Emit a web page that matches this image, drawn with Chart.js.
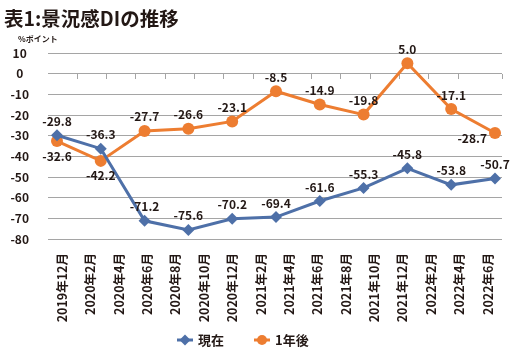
<!DOCTYPE html>
<html lang="ja">
<head>
<meta charset="utf-8">
<title>表1:景況感DIの推移</title>
<script src="https://cdn.jsdelivr.net/npm/chart.js@4/dist/chart.umd.min.js"></script>
<style>
  html, body { margin: 0; padding: 0; background: #fff; }
  #contenedor { position: relative; width: 513px; height: 360px; }
  #titulo { position: absolute; left: 4px; top: 8px; margin: 0; font: 700 19.5px/1 "Noto Sans CJK JP", sans-serif; color: #231815; }
  #unidad { position: absolute; left: 18px; top: 35px; font: 700 8px/1 "Noto Sans CJK JP", sans-serif; color: #231815; }
  #grafico { position: absolute; left: 0; top: 0; }
</style>
</head>
<body>
<div id="contenedor">
  <canvas id="grafico" width="513" height="360"></canvas>
  <h1 id="titulo">表1:景況感DIの推移</h1>
  <div id="unidad">%ポイント</div>
</div>
<script>
// Datos
const categorias = ['2019年12月', '2020年2月', '2020年4月', '2020年6月', '2020年8月', '2020年10月',
  '2020年12月', '2021年2月', '2021年4月', '2021年6月', '2021年8月', '2021年10月',
  '2021年12月', '2022年2月', '2022年4月', '2022年6月'];
const valoresActual = [-29.8, -36.3, -71.2, -75.6, -70.2, -69.4, -61.6, -55.3, -45.8, -53.8, -50.7];
const valoresFuturo = [-32.6, -42.2, -27.7, -26.6, -23.1, -8.5, -14.9, -19.8, 5.0, -17.1, -28.7];
const ticksY = [10, 0, -10, -20, -30, -40, -50, -60, -70, -80];
const nombresSeries = ['現在', '1年後'];

(function(){
  const tinta = '#231815';
  const gris = '#a5a5a5';
  const azul = '#4e70a8';
  const naranja = '#ed7d31';
  const fuente = '"Noto Sans CJK JP", sans-serif';

  const aPuntos = (valores) => valores.map((v, i) => ({ x: i, y: v }));

  // Etiquetas de valor encima/debajo de cada punto
  const etiquetasDatos = {
    id: 'etiquetasDatos',
    afterDatasetsDraw(chart) {
      const ctx = chart.ctx;
      ctx.save();
      ctx.font = 'bold 12px ' + fuente;
      ctx.fillStyle = tinta;
      ctx.textBaseline = 'middle';
      chart.data.datasets.forEach((ds, d) => {
        const meta = chart.getDatasetMeta(d);
        const pos = ds.etiquetas || {};
        const abajo = pos.abajo || [];
        const izquierda = pos.izquierda || [];
        meta.data.forEach((pt, i) => {
          const texto = ds.data[i].y.toFixed(1);
          if (izquierda.includes(i)) {
            ctx.textAlign = 'right';
            ctx.fillText(texto, pt.x - 8, pt.y + 5);
          } else if (abajo.includes(i)) {
            ctx.textAlign = 'center';
            ctx.fillText(texto, pt.x, pt.y + 15);
          } else {
            ctx.textAlign = 'center';
            ctx.fillText(texto, pt.x, pt.y - 14);
          }
        });
      });
      ctx.restore();
    }
  };

  // Leyenda con línea y marcador, abajo
  const leyenda = {
    id: 'leyenda',
    afterDraw(chart) {
      const ctx = chart.ctx;
      const y = 340;
      let x = 177;
      ctx.save();
      ctx.font = 'bold 13px ' + fuente;
      ctx.textBaseline = 'middle';
      ctx.textAlign = 'left';
      chart.data.datasets.forEach((ds) => {
        ctx.strokeStyle = ds.borderColor;
        ctx.lineWidth = 3;
        ctx.beginPath();
        ctx.moveTo(x, y);
        ctx.lineTo(x + 16, y);
        ctx.stroke();
        ctx.fillStyle = ds.pointBackgroundColor;
        ctx.beginPath();
        const cx = x + 8;
        if (ds.pointStyle === 'rectRot') {
          const r = 5.5;
          ctx.moveTo(cx, y - r);
          ctx.lineTo(cx + r, y);
          ctx.lineTo(cx, y + r);
          ctx.lineTo(cx - r, y);
          ctx.closePath();
        } else {
          ctx.arc(cx, y, 5, 0, Math.PI * 2);
        }
        ctx.fill();
        ctx.fillStyle = tinta;
        ctx.fillText(ds.label, x + 21, y);
        x += 21 + ctx.measureText(ds.label).width + 30;
      });
      ctx.restore();
    }
  };

  const inicializar = () => {
    const canvas = document.getElementById('grafico');
    if (typeof Chart === 'undefined' || !canvas) return;
    new Chart(canvas.getContext('2d'), {
      type: 'line',
      data: {
        datasets: [{
          label: nombresSeries[0],
          data: aPuntos(valoresActual),
          xAxisID: 'xDatos',
          borderColor: azul,
          backgroundColor: azul,
          pointBackgroundColor: azul,
          pointBorderWidth: 0,
          pointStyle: 'rectRot',
          pointRadius: 6,
          borderWidth: 3,
          tension: 0
        }, {
          label: nombresSeries[1],
          data: aPuntos(valoresFuturo),
          xAxisID: 'xDatos',
          borderColor: naranja,
          backgroundColor: naranja,
          pointBackgroundColor: naranja,
          pointBorderWidth: 0,
          pointStyle: 'circle',
          pointRadius: 6,
          borderWidth: 3,
          tension: 0,
          etiquetas: { abajo: [0, 1], izquierda: [10] }
        }]
      },
      options: {
        responsive: false,
        animation: false,
        events: [],
        layout: { padding: { top: 53, right: 11, left: 0, bottom: 0 } },
        plugins: {
          legend: { display: false },
          tooltip: { enabled: false },
          title: { display: false }
        },
        scales: {
          xDatos: {
            type: 'linear',
            display: false,
            min: -0.205,
            max: 10.16
          },
          xEtiquetas: {
            type: 'category',
            labels: categorias,
            position: 'bottom',
            offset: true,
            grid: { display: false },
            border: { display: false },
            ticks: {
              autoSkip: false,
              minRotation: 90,
              maxRotation: 90,
              padding: 6,
              color: tinta,
              font: { family: fuente, size: 12.5, weight: 'bold' }
            },
            afterFit: (s) => { s.height = 121; }
          },
          xMarcas: {
            type: 'linear',
            position: { y: 0 },
            min: 0,
            max: categorias.length - 0.5,
            ticks: { display: false, stepSize: 1 },
            border: { display: false },
            grid: {
              drawOnChartArea: false,
              tickLength: 5,
              color: (c) => (c.tick && c.tick.value === 0 ? 'rgba(0,0,0,0)' : gris)
            }
          },
          y: {
            type: 'linear',
            min: -80,
            max: 10,
            afterBuildTicks: (s) => { s.ticks = ticksY.map((v) => ({ value: v })); },
            border: { display: false },
            grid: { color: gris, lineWidth: 1, drawTicks: false },
            ticks: {
              crossAlign: 'center',
              padding: 19,
              color: tinta,
              font: { family: fuente, size: 12, weight: 'bold' }
            },
            afterFit: (s) => { s.width = 48; }
          }
        }
      },
      plugins: [etiquetasDatos, leyenda]
    });
  };

  if (document.readyState === 'loading') {
    document.addEventListener('DOMContentLoaded', inicializar);
  } else {
    inicializar();
  }
})();
</script>
</body>
</html>
